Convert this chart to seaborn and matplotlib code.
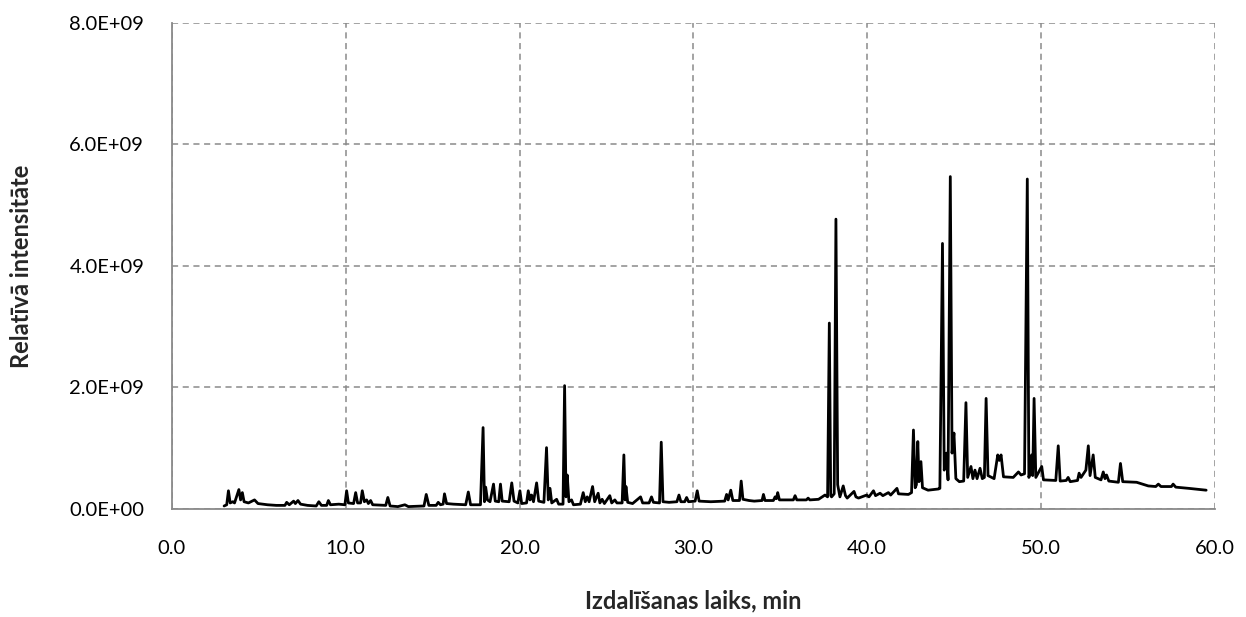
import numpy as np
import pandas as pd
import matplotlib
matplotlib.use("Agg")
import matplotlib.pyplot as plt
from matplotlib.ticker import MultipleLocator, FuncFormatter
import seaborn as sns

# Retention time (min) and relative intensity (x1E9)
time_min = [
    3.0, 3.15, 3.25, 3.35, 3.5, 3.6, 3.85, 3.95, 4.05, 4.15, 4.4, 4.75, 4.95, 5.5, 6.0,
    6.5, 6.6, 6.75, 7.0, 7.1, 7.25, 7.4, 7.8, 8.3, 8.45, 8.6, 8.9, 9.0, 9.12, 9.6,
    9.95, 10.05, 10.15, 10.45, 10.57, 10.68, 10.85, 10.95, 11.07, 11.2, 11.3, 11.43, 11.55,
    12.3, 12.42, 12.55, 13.0, 13.4, 13.6, 14.5, 14.63, 14.78, 15.2, 15.32, 15.45, 15.6,
    15.68, 15.8, 16.2, 16.9, 17.05, 17.18, 17.75, 17.9, 17.98, 18.05, 18.15, 18.3, 18.5,
    18.6, 18.8, 18.9, 19.0, 19.4, 19.55, 19.68, 19.9, 20.02, 20.12, 20.4, 20.5, 20.6,
    20.69, 20.8, 20.98, 21.1, 21.4, 21.55, 21.65, 21.75, 21.85, 22.13, 22.25, 22.5, 22.59,
    22.67, 22.74, 22.84, 22.99, 23.1, 23.5, 23.66, 23.78, 23.89, 24.0, 24.2, 24.32, 24.52,
    24.62, 24.75, 24.88, 25.19, 25.3, 25.48, 25.6, 25.9, 26.0, 26.07, 26.12, 26.22, 26.5,
    26.96, 27.08, 27.45, 27.59, 27.7, 28.05, 28.15, 28.25, 28.6, 29.05, 29.17, 29.28, 29.5,
    29.61, 29.72, 30.1, 30.22, 30.33, 31.0, 31.8, 31.91, 32.0, 32.15, 32.27, 32.65, 32.75,
    32.85, 33.2, 33.5, 33.95, 34.03, 34.12, 34.6, 34.7, 34.78, 34.85, 34.95, 35.75, 35.85,
    35.95, 36.5, 36.6, 36.7, 37.2, 37.57, 37.72, 37.82, 37.9, 37.95, 38.1, 38.2, 38.3,
    38.43, 38.62, 38.75, 38.85, 39.24, 39.35, 39.5, 39.97, 40.1, 40.36, 40.48, 40.74, 40.9,
    41.22, 41.35, 41.71, 41.8, 42.37, 42.55, 42.66, 42.76, 42.83, 42.91, 42.98, 43.09, 43.18,
    43.5, 44.1, 44.18, 44.33, 44.43, 44.56, 44.65, 44.78, 44.88, 44.99, 45.1, 45.3, 45.55,
    45.68, 45.78, 45.97, 46.08, 46.2, 46.32, 46.49, 46.62, 46.74, 46.84, 46.95, 47.3, 47.51,
    47.6, 47.7, 47.84, 48.4, 48.7, 48.85, 49.05, 49.21, 49.3, 49.38, 49.46, 49.52, 49.6,
    49.7, 50.04, 50.14, 50.85, 50.99, 51.1, 51.45, 51.56, 51.68, 52.1, 52.19, 52.3, 52.58,
    52.72, 52.82, 53.0, 53.12, 53.45, 53.58, 53.68, 53.77, 53.9, 54.45, 54.57, 54.7, 55.5,
    56.17, 56.6, 56.75, 56.9, 57.5, 57.6, 57.75, 58.5, 59.5,
]
intensity_e9 = [
    0.05, 0.07, 0.30, 0.10, 0.12, 0.10, 0.32, 0.15, 0.27, 0.12, 0.10, 0.15, 0.09, 0.07, 0.06,
    0.06, 0.11, 0.07, 0.13, 0.09, 0.14, 0.08, 0.06, 0.05, 0.12, 0.06, 0.06, 0.14, 0.07, 0.08,
    0.07, 0.30, 0.10, 0.09, 0.27, 0.10, 0.10, 0.30, 0.12, 0.15, 0.09, 0.14, 0.07,
    0.06, 0.19, 0.05, 0.04, 0.07, 0.04, 0.05, 0.24, 0.06, 0.06, 0.11, 0.07, 0.08,
    0.25, 0.09, 0.08, 0.07, 0.28, 0.07, 0.07, 1.34, 0.12, 0.36, 0.15, 0.12, 0.41,
    0.13, 0.12, 0.41, 0.13, 0.12, 0.43, 0.13, 0.10, 0.30, 0.09, 0.10, 0.30, 0.15,
    0.23, 0.12, 0.43, 0.13, 0.11, 1.01, 0.15, 0.34, 0.10, 0.16, 0.08, 0.08, 2.03,
    0.20, 0.56, 0.12, 0.15, 0.07, 0.08, 0.27, 0.12, 0.20, 0.12, 0.37, 0.12, 0.26,
    0.10, 0.16, 0.09, 0.22, 0.10, 0.15, 0.10, 0.10, 0.89, 0.15, 0.37, 0.11, 0.09,
    0.20, 0.10, 0.10, 0.20, 0.11, 0.10, 1.10, 0.12, 0.11, 0.12, 0.23, 0.12, 0.12,
    0.19, 0.12, 0.13, 0.30, 0.13, 0.12, 0.13, 0.24, 0.15, 0.31, 0.14, 0.14, 0.46,
    0.16, 0.14, 0.13, 0.14, 0.24, 0.14, 0.14, 0.20, 0.17, 0.27, 0.15, 0.15, 0.22,
    0.15, 0.15, 0.18, 0.15, 0.16, 0.23, 0.20, 3.06, 0.22, 0.20, 0.25, 4.77, 0.40,
    0.20, 0.38, 0.22, 0.18, 0.29, 0.20, 0.18, 0.23, 0.20, 0.30, 0.22, 0.26, 0.22,
    0.27, 0.23, 0.34, 0.25, 0.24, 0.27, 1.30, 0.35, 0.40, 1.11, 0.45, 0.78, 0.35,
    0.31, 0.33, 0.34, 4.37, 0.64, 0.92, 0.48, 5.47, 0.92, 1.25, 0.50, 0.45, 0.46,
    1.75, 0.52, 0.70, 0.50, 0.64, 0.50, 0.67, 0.50, 0.52, 1.82, 0.55, 0.50, 0.89,
    0.80, 0.89, 0.53, 0.52, 0.61, 0.56, 0.58, 5.43, 0.52, 0.60, 0.89, 0.55, 1.82,
    0.52, 0.70, 0.48, 0.47, 1.04, 0.46, 0.47, 0.52, 0.45, 0.47, 0.59, 0.52, 0.64,
    1.04, 0.55, 0.89, 0.52, 0.48, 0.61, 0.50, 0.56, 0.46, 0.44, 0.75, 0.45, 0.44,
    0.38, 0.37, 0.41, 0.37, 0.37, 0.41, 0.36, 0.34, 0.31,
]

x_label = "Izdalīšanas laiks, min"
y_label = "Relatīvā intensitāte"

df = pd.DataFrame({"t": time_min, "v": np.array(intensity_e9) * 1e9})

sns.set_theme(style="white")
plt.rcParams["font.family"] = ["Lato", "DejaVu Sans"]

fig = plt.figure(figsize=(12.46, 6.17), dpi=100)
ax = fig.add_axes([0.138, 0.175, 0.837, 0.788])

sns.lineplot(data=df, x="t", y="v", ax=ax, color="black", linewidth=2.0,
             estimator=None, sort=False)

ax.set_xlim(0, 60)
ax.set_ylim(0, 8e9)
ax.xaxis.set_major_locator(MultipleLocator(10))
ax.xaxis.set_minor_locator(MultipleLocator(2))
ax.yaxis.set_major_locator(MultipleLocator(2e9))
ax.yaxis.set_minor_locator(MultipleLocator(0.4e9))
ax.xaxis.set_major_formatter(FuncFormatter(lambda v, p: f"{v:.1f}"))
ax.yaxis.set_major_formatter(FuncFormatter(lambda v, p: f"{v:.1E}"))

gcol = "#8a8a8a"
ax.grid(True, which="major", color=gcol, linestyle=(0, (4, 3)), linewidth=1.1)
ax.set_axisbelow(True)
for s in ["top", "right"]:
    ax.spines[s].set_visible(False)
for s in ["left", "bottom"]:
    ax.spines[s].set_color(gcol)
    ax.spines[s].set_linewidth(1.3)

ax.tick_params(axis="x", which="major", direction="out", length=6, width=1.1,
               color=gcol, labelsize=14.5, labelcolor="black", pad=16)
ax.tick_params(axis="x", which="minor", direction="out", length=6, width=1.1, color=gcol)
ax.tick_params(axis="y", which="major", direction="inout", length=12, width=1.1,
               color=gcol, labelsize=14.5, labelcolor="black", pad=14)
ax.tick_params(axis="y", which="minor", direction="out", length=5, width=1.1, color=gcol)

ax.set_xlabel(x_label, fontsize=17, fontweight="bold", labelpad=24)
ax.set_ylabel(y_label, fontsize=17, fontweight="bold", labelpad=26)

fig.savefig("out.png", dpi=100)
